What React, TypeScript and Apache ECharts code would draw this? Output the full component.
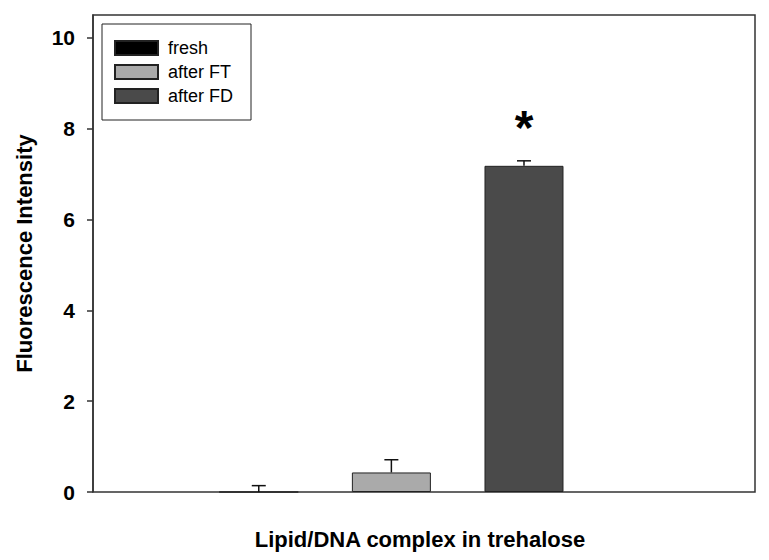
import React, { useEffect, useRef } from "react";
import * as echarts from "echarts";

const seriesNames = ["fresh", "after FT", "after FD"];
const barColors = ["#000000", "#aaaaaa", "#4a4a4a"];
const positions = [1, 2, 3];
const means = [0, 0.43, 7.18];
const errors = [0.14, 0.28, 0.11];
const significance = ["", "", "*"];
const yTicks = [0, 2, 4, 6, 8, 10];
const yTitle = "Fluorescence Intensity";
const xTitle = "Lipid/DNA complex in trehalose";

const FONT = "'Liberation Sans', Arial, Helvetica, sans-serif";

export default function App() {
  const ref = useRef<HTMLDivElement>(null);
  useEffect(() => {
    if (!ref.current) return;
    const chart = echarts.init(ref.current, undefined, { renderer: "svg" });
    const barSeries = seriesNames.map((name, i) => ({
      type: "bar",
      name,
      data: [[positions[i], means[i]]],
      barWidth: 79,
      barGap: "-100%",
      itemStyle: { color: barColors[i], borderColor: "#222", borderWidth: 1 },
      z: 2,
    }));
    const errSeries = {
      type: "custom",
      name: "err",
      data: means.map((m, i) => [positions[i], m, errors[i]]),
      z: 5,
      renderItem: (params: any, api: any) => {
        const x = api.value(0);
        const m = api.value(1);
        const e = api.value(2);
        const base = api.coord([x, m]);
        const top = api.coord([x, m + e]);
        const half = 7;
        const st = { stroke: "#111", lineWidth: 1.5 };
        const children: any[] = [
          { type: "line", shape: { x1: base[0], y1: base[1], x2: top[0], y2: top[1] }, style: st },
          { type: "line", shape: { x1: top[0] - half, y1: top[1], x2: top[0] + half, y2: top[1] }, style: st },
        ];
        const sig = significance[params.dataIndex];
        if (sig) {
          children.push({
            type: "text",
            x: top[0],
            y: top[1] - 33,
            style: {
              text: sig,
              font: `bold 48px ${FONT}`,
              textAlign: "center",
              textVerticalAlign: "middle",
              fill: "#000",
            },
          });
        }
        return { type: "group", children };
      },
    };
    chart.setOption({
      animation: false,
      backgroundColor: "#ffffff",
      grid: {
        left: 93,
        right: 14,
        top: 15,
        bottom: 68,
        show: true,
        borderColor: "#333",
        borderWidth: 1.5,
        containLabel: false,
      },
      legend: {
        data: seriesNames,
        orient: "vertical",
        left: 102,
        top: 24,
        itemWidth: 43,
        itemHeight: 14,
        itemGap: 6,
        padding: [15, 18, 15, 12],
        borderColor: "#222",
        borderWidth: 1,
        icon: "rect",
        selectedMode: false,
        textStyle: {
          fontFamily: FONT,
          fontSize: 18,
          color: "#000",
          padding: [0, 0, 0, 5],
        },
      },
      xAxis: {
        type: "value",
        min: -0.25,
        max: 4.742,
        axisLine: { show: false },
        axisTick: { show: false },
        axisLabel: { show: false },
        splitLine: { show: false },
        name: xTitle,
        nameLocation: "middle",
        nameGap: 36,
        nameTextStyle: {
          fontFamily: FONT,
          fontSize: 22,
          fontWeight: "bold",
          color: "#000",
          padding: [0, 8, 0, 0],
        },
      },
      yAxis: {
        type: "value",
        min: 0,
        max: 10.5,
        interval: 2,
        axisLine: { show: true, onZero: false, lineStyle: { color: "#333", width: 1.5 } },
        axisTick: {
          show: true,
          inside: false,
          length: 6,
          lineStyle: { color: "#333", width: 1.5 },
          customValues: yTicks,
        },
        axisLabel: {
          show: true,
          margin: 18,
          fontFamily: FONT,
          fontSize: 21,
          fontWeight: "bold",
          color: "#000",
          customValues: yTicks,
        },
        splitLine: { show: false },
        name: yTitle,
        nameLocation: "middle",
        nameGap: 58,
        nameTextStyle: {
          fontFamily: FONT,
          fontSize: 22,
          fontWeight: "bold",
          color: "#000",
        },
      },
      series: [...barSeries, errSeries],
    });
    return () => chart.dispose();
  }, []);
  return (
    <div
      ref={ref}
      style={{ position: "fixed", left: 0, top: 0, width: 769, height: 560, background: "#fff" }}
    />
  );
}
